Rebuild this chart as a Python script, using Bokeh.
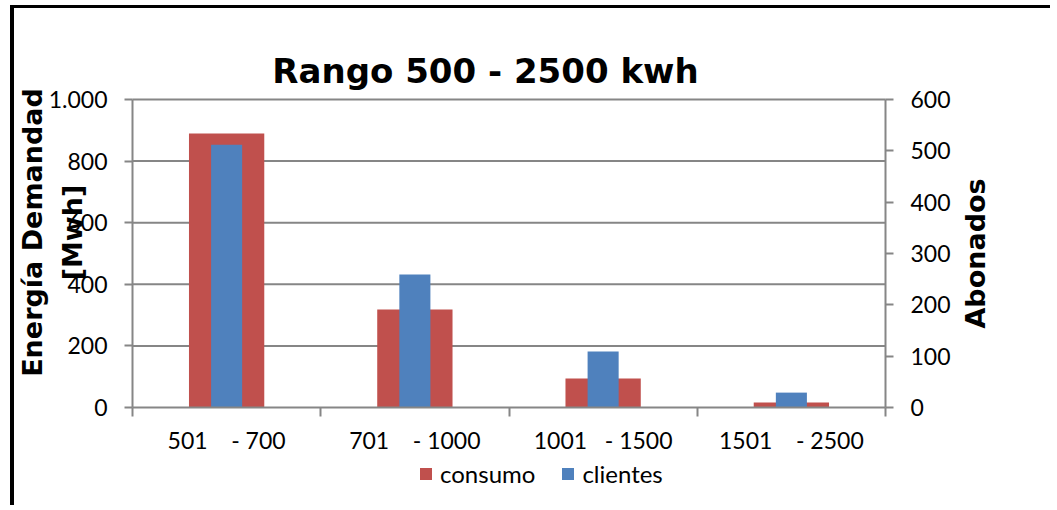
import math
from bokeh.plotting import figure
from bokeh.models import (Range1d, LinearAxis, FixedTicker, Legend, LegendItem, Label,
                          ColumnDataSource)
from bokeh.embed import file_html
from bokeh.resources import INLINE

# ---- data ----
NB = "\u00a0"
categories = ["501" + NB * 4 + "- 700", "701" + NB * 4 + "- 1000",
              "1001" + NB * 3 + "- 1500", "1501" + NB * 4 + "- 2500"]
consumo = [890, 318, 94, 16]          # Energía demandada [Mwh] (left axis)
clientes = [512, 259, 109, 29]        # Abonados (right axis)
left_ticks = [0, 200, 400, 600, 800, 1000]
left_tick_labels = ["0", "200", "400", "600", "800", "1.000"]
right_ticks = [0, 100, 200, 300, 400, 500, 600]
title_text = "Rango 500 - 2500 kwh"
left_title_lines = ["Energía Demandad", "[Mwh]"]
right_title = "Abonados"
series_names = ["consumo", "clientes"]

RED = "#C0504D"
BLUE = "#4F81BD"
GRAY = "#868686"
FONT = "Lato"
TFONT = "DejaVu Sans"

# ---- layout (pixels of the page) ----
W, H = 1040, 500                 # canvas size
OX, OY = 14, 8                   # canvas offset on the page (css margin + border)
PL, PR, PT, PB = 132, 885, 99, 407   # plot area on the page

n = len(categories)
ymax = left_ticks[-1]
y2max = right_ticks[-1]
xs = n / (PR - PL)               # data units per pixel
ys = ymax / (PB - PT)
x_start = (OX - PL) * xs
x_end = (OX + W - PL) * xs
y_end = (PB - OY) * ys
y_start = (PB - OY - H) * ys
k2 = y2max / ymax


def px(xp):
    return (xp - PL) * xs


def py(yp):
    return (PB - yp) * ys


centers = [i + 0.5 for i in range(n)]
bounds = [float(i) for i in range(n + 1)]
src = ColumnDataSource(dict(x=centers, cat=categories, consumo=consumo, clientes=clientes))

p = figure(width=W, height=H, x_range=Range1d(x_start, x_end), y_range=Range1d(y_start, y_end),
           output_backend="svg", toolbar_location=None, title=None, min_border=0)
p.styles = {"margin-left": "10px", "margin-top": "5px",
            "border-left": "4px solid black", "border-top": "3px solid black"}
p.outline_line_color = None
p.background_fill_color = "white"
p.border_fill_color = "white"
p.extra_y_ranges = {"cli": Range1d(y_start * k2, y_end * k2)}
p.xgrid.visible = False
p.ygrid.visible = False

# gridlines (left-axis ticks, across the plot area)
grid_src = ColumnDataSource(dict(y=left_ticks[1:]))
p.segment(x0=0, x1=n, y0="y", y1="y", source=grid_src, line_color=GRAY, line_width=2)

r1 = p.vbar(x="x", top="consumo", width=0.40, source=src, fill_color=RED, line_color=None)
r2 = p.vbar(x="x", top="clientes", width=0.165, source=src, fill_color=BLUE, line_color=None,
            y_range_name="cli")

# x axis
xa = p.xaxis[0]
xa.fixed_location = 0
xa.bounds = (0, n)
xa.ticker = FixedTicker(ticks=centers, minor_ticks=bounds)
xa.major_label_overrides = {c: lab for c, lab in zip(centers, categories)}
xa.major_tick_line_color = None
xa.major_tick_out = 0
xa.major_tick_in = 0
xa.minor_tick_line_color = GRAY
xa.minor_tick_line_width = 2
xa.minor_tick_out = 9
xa.minor_tick_in = 0
xa.axis_line_color = GRAY
xa.axis_line_width = 2
xa.major_label_text_font = FONT
xa.major_label_text_font_size = "23px"
xa.major_label_text_color = "black"
xa.major_label_standoff = 9

# left axis
ya = p.yaxis[0]
ya.fixed_location = 0
ya.bounds = (0, ymax)
ya.ticker = FixedTicker(ticks=left_ticks, minor_ticks=[])
ya.major_label_overrides = {t: lab for t, lab in zip(left_ticks, left_tick_labels)}
ya.axis_line_color = GRAY
ya.axis_line_width = 2
ya.major_tick_line_color = GRAY
ya.major_tick_line_width = 2
ya.major_tick_out = 8
ya.major_tick_in = 0
ya.minor_tick_line_color = None
ya.major_label_text_font = FONT
ya.major_label_text_font_size = "23px"
ya.major_label_text_color = "black"
ya.major_label_standoff = 17

# right axis
yr = LinearAxis(y_range_name="cli", ticker=FixedTicker(ticks=right_ticks, minor_ticks=[]))
yr.fixed_location = n
yr.bounds = (0, y2max)
yr.axis_line_color = GRAY
yr.axis_line_width = 2
yr.major_tick_line_color = GRAY
yr.major_tick_line_width = 2
yr.major_tick_out = 8
yr.major_tick_in = 0
yr.minor_tick_line_color = None
yr.major_label_text_font = FONT
yr.major_label_text_font_size = "23px"
yr.major_label_text_color = "black"
yr.major_label_standoff = 17
p.add_layout(yr, "right")

# titles
p.add_layout(Label(x=px(485), y=py(70), text=title_text, text_font=TFONT,
                   text_font_style="bold", text_font_size="34px", text_align="center",
                   text_baseline="middle", text_color="black"))
for xp, line in zip([32, 71.5], left_title_lines):
    p.add_layout(Label(x=px(xp), y=py(232), text=line, text_font=TFONT,
                       text_font_style="bold", text_font_size="27px", text_align="center",
                       text_baseline="middle", angle=math.pi / 2, text_color="black"))
p.add_layout(Label(x=px(975), y=py(253), text=right_title, text_font=TFONT,
                   text_font_style="bold", text_font_size="27px", text_align="center",
                   text_baseline="middle", angle=math.pi / 2, text_color="black"))

# legend
legend = Legend(items=[LegendItem(label=series_names[0], renderers=[r1]),
                       LegendItem(label=series_names[1], renderers=[r2])],
                orientation="horizontal", location=(418 - OX, OY + H - 488),
                glyph_width=15, glyph_height=15, label_standoff=7, spacing=25,
                padding=0, margin=0, border_line_color=None, background_fill_alpha=0,
                label_text_font=FONT, label_text_font_size="24px", label_text_color="black")
p.add_layout(legend)

open("out.html", "w").write(file_html(p, INLINE))
